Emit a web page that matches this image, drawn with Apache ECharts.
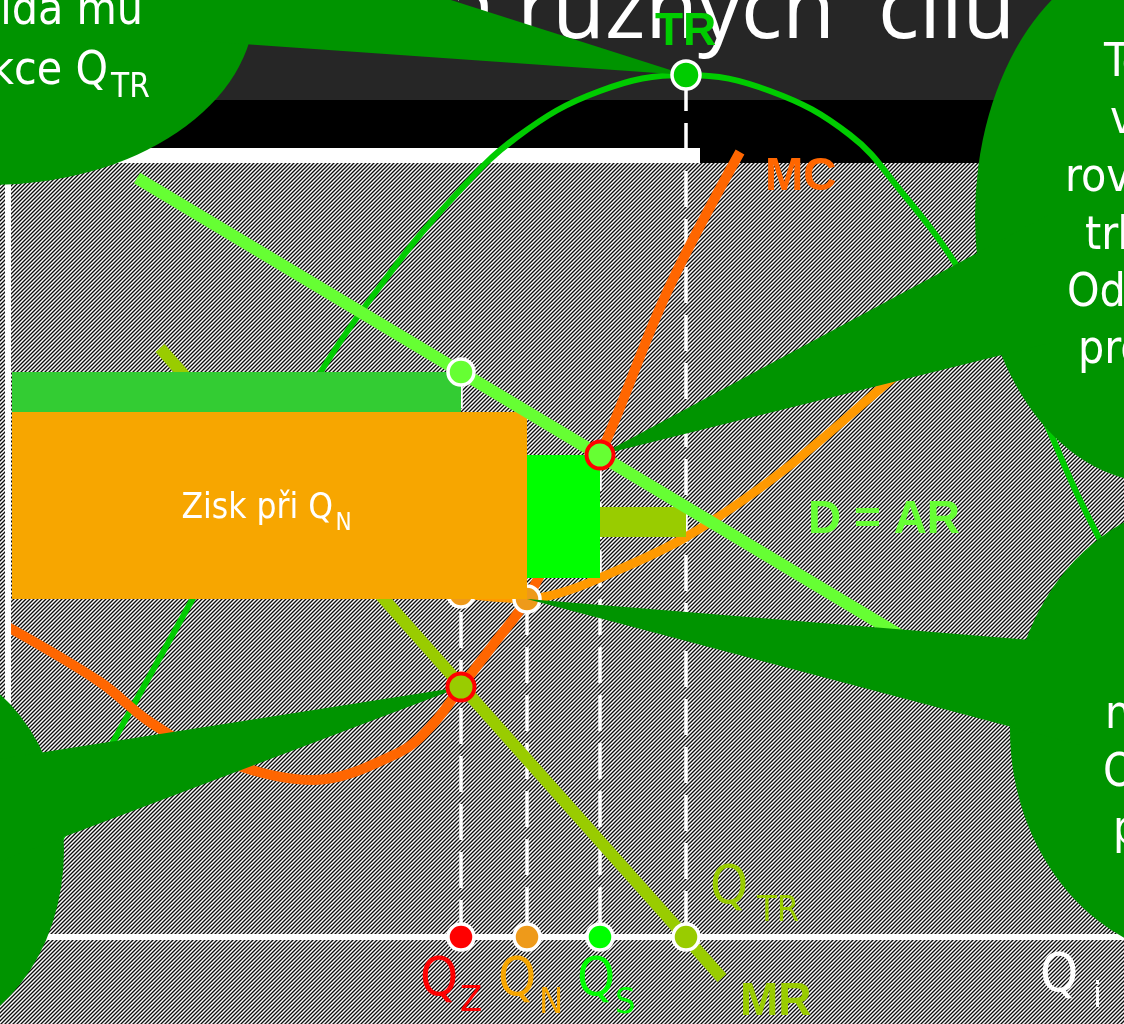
<!DOCTYPE html>
<html>
<head>
<meta charset="utf-8">
<script src="https://cdn.jsdelivr.net/npm/echarts@6/dist/echarts.min.js"></script>
<style>
  html, body { margin: 0; padding: 0; background: #fff; }
  #chart { width: 1124px; height: 1024px; }
</style>
</head>
<body>
<div id="chart"></div>
<script>
// ---- Chosen outputs (quantity units) ----
const qZ = 45.3, qN = 51.9, qS = 59.2, qTR = 67.8;
const quantities = [qZ, qN, qS, qTR];

// ---- Curves ----
const demandLine = [[12.9, 75.9], [100.0, 23.7]];          // D = AR
const marginalRevenue = [[15.2, 58.9], [71.4, -4.1]];       // MR
const totalRevenue = [
  [0, 0], [5.2, 9.7], [10.5, 19.5], [18.4, 33.7], [24.7, 45.0], [31.2, 56.4],
  [37.9, 66.0], [44.2, 73.6], [50.9, 80.0], [59.2, 84.6], [67.8, 86.2],
  [76.2, 84.6], [84.2, 80.2], [89.2, 74.7], [94.7, 67.4],
  [102.2, 54.7], [107.2, 43.7], [111.6, 35.2]
];
const marginalCost = [
  [0, 31.0], [9.2, 25.5], [14.2, 21.5], [20.5, 18.0], [30.5, 15.7], [39.2, 18.5],
  [42.5, 21.3], [45.3, 25.0], [48.5, 29.2], [51.9, 33.8], [59.2, 48.2], [65.9, 64.5],
  [73.2, 78.5]
];
const averageCost = [
  [39.2, 34.9], [45.3, 34.3], [51.9, 33.8], [55.2, 34.4], [59.2, 35.9], [67.8, 40.0],
  [77.2, 46.4], [87.9, 55.4], [89.2, 56.5]
];

// ---- Values at the chosen outputs (order: Z, N, S, TR) ----
const arAtQ = [56.5, 52.5, 48.2, 43.0];
const acAtQ = [34.3, 33.8, 35.9, 40.0];
const mrEqualsMc = 25.0;   // MR = MC at qZ
const trMax = 86.2;        // TR peak at qTR

// ---- Profit rectangles: [quantity, price (AR), unit cost (AC)] ----
const profitRects = [
  [qTR, arAtQ[3], acAtQ[3]],
  [qZ, arAtQ[0], acAtQ[0]],
  [qS, arAtQ[2], acAtQ[2]],
  [qN, arAtQ[1], acAtQ[1]]
];
const profitColors = ['#99CC00', '#33CC33', '#00FF00', '#F7A600'];

// ---- Texts ----
const titleWords = ['Volba různých', 'cílů'];
const qSubs = ['Z', 'N', 'S', 'TR'];
const qColors = ['#FF0000', '#F7A600', '#00FF00', '#99CC00'];
const profitLabel = ['Zisk při Q', 'N'];
const bubbleTopLeft = ['odpovídá mu', 'produkce Q', 'TR'];
const bubbleTopRight = ['Tento výstup', 'vzniká při', 'rovnováze na', 'trhu dokonalé', 'Odpovídá mu', 'produkce Q'];
const bubbleBottomRight = ['nejnižší náklady.', 'Odpovídá jim', 'produkce Q'];

// ---- Hatched slide background ----
const chartDom = document.getElementById('chart');
(function () {
  const c = document.createElement('canvas');
  c.width = 4; c.height = 4;
  const ctx = c.getContext('2d');
  const img = ctx.createImageData(4, 4);
  const tone = [12, 140, 250, 140];
  for (let y = 0; y < 4; y++) {
    for (let x = 0; x < 4; x++) {
      const v = tone[(x + y) % 4];
      const i = (y * 4 + x) * 4;
      img.data[i] = img.data[i + 1] = img.data[i + 2] = v;
      img.data[i + 3] = 255;
    }
  }
  ctx.putImageData(img, 0, 0);
  chartDom.style.backgroundImage = 'url(' + c.toDataURL() + ')';
})();

const chart = echarts.init(chartDom, null, { renderer: 'canvas' });

const whiteRing = (color) => ({ color: color, borderColor: '#FFFFFF', borderWidth: 3.5, opacity: 1 });
const redRing = (color) => ({ color: color, borderColor: '#FF0000', borderWidth: 4, opacity: 1 });

const option = {
  backgroundColor: 'transparent',
  animation: false,
  grid: { left: 0, right: 0, top: 0, bottom: 0 },
  xAxis: { type: 'value', min: -0.8, max: 111.6, show: false },
  yAxis: { type: 'value', min: -8.7, max: 93.7, show: false },
  series: [
    { name: 'TR', type: 'line', data: totalRevenue, smooth: 0.4, showSymbol: false, silent: true,
      lineStyle: { color: '#00CC00', width: 6, opacity: 1 }, z: 2 },
    { name: 'MR', type: 'line', data: marginalRevenue, showSymbol: false, silent: true,
      lineStyle: { color: '#99CC00', width: 12, opacity: 1 }, z: 2 },
    { name: 'MC', type: 'line', data: marginalCost, smooth: 0.35, showSymbol: false, silent: true,
      lineStyle: { color: '#FF6600', width: 10, opacity: 1 }, z: 2 },
    { name: 'AC', type: 'line', data: averageCost, smooth: 0.35, showSymbol: false, silent: true,
      lineStyle: { color: '#FF9900', width: 9, opacity: 1 }, z: 2 },
    { name: 'guides', type: 'lines', coordinateSystem: 'cartesian2d', silent: true, z: 2,
      lineStyle: { color: '#FFFFFF', width: 3.5, type: [36, 12], opacity: 1 },
      data: [
        { coords: [[qZ, arAtQ[0]], [qZ, 0]] },
        { coords: [[qN, acAtQ[1]], [qN, 0]] },
        { coords: [[qS, arAtQ[2]], [qS, 0]] },
        { coords: [[qTR, trMax], [qTR, 0]] }
      ] },
    { name: 'AC points', type: 'scatter', symbolSize: 26, silent: true, z: 3,
      data: [
        { value: [qZ, acAtQ[0]], itemStyle: whiteRing('#EE9A1A') },
        { value: [qN, acAtQ[1]], itemStyle: whiteRing('#EE9A1A') }
      ] },
    { name: 'profit', type: 'custom', silent: true, z: 4,
      data: profitRects.map((r, i) => ({ value: r, itemStyle: { color: profitColors[i] } })),
      renderItem: function (params, api) {
        const topRight = api.coord([api.value(0), api.value(1)]);
        const bottom = api.coord([0, api.value(2)]);
        const left = bottom[0] + 4;
        return {
          type: 'rect',
          shape: { x: left, y: topRight[1], width: topRight[0] - left, height: bottom[1] - topRight[1] },
          style: { fill: api.visual('color') }
        };
      } },
    { name: 'D = AR', type: 'line', data: demandLine, showSymbol: false, silent: true,
      lineStyle: { color: '#66FF33', width: 12, opacity: 1 }, z: 5 },
    { name: 'axes', type: 'lines', coordinateSystem: 'cartesian2d', silent: true, z: 6,
      lineStyle: { color: '#FFFFFF', width: 6, opacity: 1 },
      data: [
        { coords: [[0, 0], [0, 78.9]] },
        { coords: [[0, 0], [111.6, 0]] }
      ] },
    { name: 'points', type: 'scatter', symbolSize: 26, silent: true, z: 20,
      data: [
        { value: [qTR, trMax], itemStyle: whiteRing('#00CC00'), symbolSize: 28 },
        { value: [qZ, arAtQ[0]], itemStyle: whiteRing('#66FF33') },
        { value: [qZ, mrEqualsMc], itemStyle: redRing('#99CC00'), symbolSize: 27 },
        { value: [qS, arAtQ[2]], itemStyle: redRing('#66FF33'), symbolSize: 27 },
        { value: [qZ, 0], itemStyle: whiteRing('#FF0000') },
        { value: [qN, 0], itemStyle: whiteRing('#EE9A1A') },
        { value: [qS, 0], itemStyle: whiteRing('#00FF00') },
        { value: [qTR, 0], itemStyle: whiteRing('#99CC00') }
      ] }
  ]
};
chart.setOption(option);

// ---- Annotations (slide title, callouts, labels) ----
const P = (x, y) => chart.convertToPixel({ gridIndex: 0 }, [x, y]);
const TAHOMA = '"DejaVu Sans Condensed", "DejaVu Sans", sans-serif';
const ARIAL = '"Liberation Sans", Arial, sans-serif';
const OPEN = '"Open Sans", sans-serif';
const MID = { tahoma: 0.35, arial: 0.35, open: 0.39 };

function text(x, baseline, str, size, color, fam, opts) {
  opts = opts || {};
  const famKey = fam === ARIAL ? 'arial' : (fam === OPEN ? 'open' : 'tahoma');
  return {
    type: 'text', z: opts.z || 25, silent: true,
    style: {
      text: str, x: x, y: baseline - MID[famKey] * size,
      font: (opts.weight || 'normal') + ' ' + size + 'px ' + fam,
      fill: color, align: opts.align || 'left', verticalAlign: 'middle',
      textAlign: opts.align || 'left', textVerticalAlign: 'middle'
    }
  };
}
function bubble(cx, cy, rx, ry, base, tip, color) {
  return [
    { type: 'circle', z: 10, silent: true, x: cx, y: cy, scaleX: rx / ry,
      shape: { cx: 0, cy: 0, r: ry }, style: { fill: color } },
    { type: 'polygon', z: 10, silent: true,
      shape: { points: [base[0], tip, base[1]] }, style: { fill: color } }
  ];
}

const W = chart.getWidth();
const green = '#009400';
const els = [];

// title area
els.push({ type: 'rect', z: 0, silent: true, shape: { x: 0, y: 0, width: W, height: 100 }, style: { fill: '#262626' } });
els.push({ type: 'rect', z: 0, silent: true, shape: { x: 0, y: 100, width: W, height: 63 }, style: { fill: '#000000' } });
els.push({ type: 'rect', z: 0, silent: true, shape: { x: 0, y: 148, width: 700, height: 15 }, style: { fill: '#FFFFFF' } });
els.push(text(835, 47, titleWords[0], 86, '#FFFFFF', OPEN, { align: 'right', z: 1 }));
els.push(text(878, 47, titleWords[1], 86, '#FFFFFF', OPEN, { z: 1 }));

// callouts
const tipTR = P(qTR, trMax);
const tipS = P(qS, arAtQ[2]);
const tipN = P(qN, acAtQ[1]);
const tipZ = P(qZ, mrEqualsMc);
els.push(...bubble(-10, 5, 265, 180, [[200, 41], [200, -80]], tipTR, green));
els.push(...bubble(1155, 217, 180, 265, [[1050, 214], [1050, 343]], tipS, green));
els.push(...bubble(1210, 730, 200, 230, [[1080, 644], [1080, 745]], tipN, green));
els.push(...bubble(-86, 850, 150, 190, [[0, 759], [0, 861]], tipZ, green));

// callout texts
els.push(text(143, 28, bubbleTopLeft[0], 46, '#FFFFFF', TAHOMA, { align: 'right', z: 11 }));
els.push(text(108, 88, bubbleTopLeft[1], 46, '#FFFFFF', TAHOMA, { align: 'right', z: 11 }));
els.push(text(111, 100, bubbleTopLeft[2], 33, '#FFFFFF', TAHOMA, { z: 11 }));
const trLines = [[1104, 80], [1110, 137], [1065, 195], [1085, 253], [1067, 310], [1078, 367]];
bubbleTopRight.forEach((s, i) => els.push(text(trLines[i][0], trLines[i][1], s, 46, '#FFFFFF', TAHOMA, { z: 11 })));
const brLines = [[1105, 732], [1103, 790], [1113, 847]];
bubbleBottomRight.forEach((s, i) => els.push(text(brLines[i][0], brLines[i][1], s, 46, '#FFFFFF', TAHOMA, { z: 11 })));

// curve labels
const trPeak = tipTR;
els.push(text(trPeak[0] - 31, trPeak[1] - 27, 'TR', 46, '#00CC00', ARIAL, { weight: 'bold' }));
const mcEnd = P(marginalCost[marginalCost.length - 1][0], marginalCost[marginalCost.length - 1][1]);
els.push(text(mcEnd[0] + 25, mcEnd[1] + 41, 'MC', 46, '#FF6600', ARIAL, { weight: 'bold' }));
const mrEnd = P(marginalRevenue[1][0], marginalRevenue[1][1]);
els.push(text(mrEnd[0] + 18, mrEnd[1] + 40, 'MR', 46, '#99CC00', ARIAL, { weight: 'bold' }));
const dEnd = P(demandLine[1][0], demandLine[1][1]);
els.push(text(dEnd[0] - 200, dEnd[1] - 164, 'D = AR', 46, '#66FF33', ARIAL, { weight: 'bold' }));

// quantity labels
const qOffsets = [[-41, 63, -1, 77], [-29, 63, 12, 79], [-23, 63, 15, 79], [24, -29, 71, -13]];
quantities.forEach((q, i) => {
  const p = P(q, 0);
  const o = qOffsets[i];
  els.push(text(p[0] + o[0], p[1] + o[1], 'Q', 54, qColors[i], TAHOMA));
  els.push(text(p[0] + o[2], p[1] + o[3], qSubs[i], 36, qColors[i], TAHOMA));
});
const axisEnd = P(111.6, 0);
els.push(text(axisEnd[0] - 84, axisEnd[1] + 59, 'Q', 54, '#FFFFFF', TAHOMA));
els.push(text(axisEnd[0] - 31, axisEnd[1] + 73, 'i', 36, '#FFFFFF', TAHOMA));

// profit label centred in the Q_N rectangle
const rTop = P(qN, arAtQ[1]);
const rBottom = P(0, acAtQ[1]);
const cx = (rTop[0] + rBottom[0] + 4) / 2;
const cy = (rTop[1] + rBottom[1]) / 2;
els.push(text(cx - 88, cy + 16, profitLabel[0], 35, '#FFFFFF', TAHOMA, { z: 6 }));
els.push(text(cx + 66, cy + 27, profitLabel[1], 24, '#FFFFFF', TAHOMA, { z: 6 }));

chart.setOption({ graphic: els });
</script>
</body>
</html>
